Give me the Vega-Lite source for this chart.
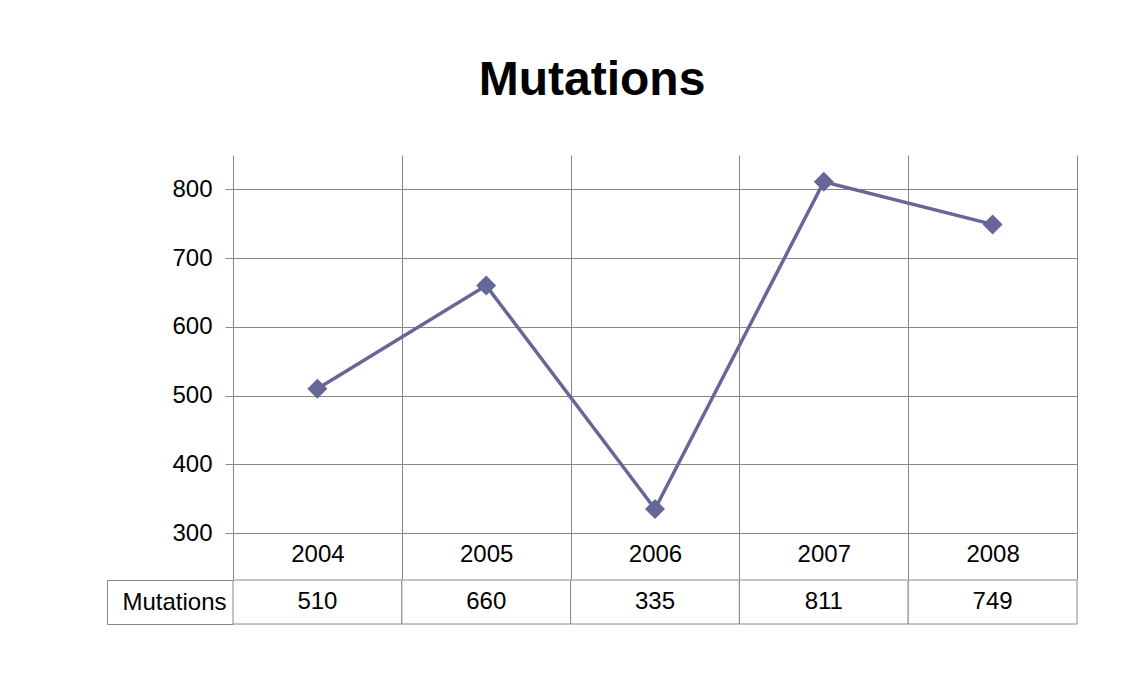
{
  "$schema": "https://vega.github.io/schema/vega-lite/v6.json",
  "padding": {"left": 106, "top": 57, "right": 10, "bottom": 10},
  "autosize": {"type": "pad"},
  "background": "white",
  "title": {"text": "Mutations", "fontSize": 48, "font": "Liberation Sans", "fontWeight": "bold", "color": "black", "anchor": "middle", "offset": 50},
  "config": {
    "view": {"stroke": null},
    "font": "Liberation Sans",
    "axis": {"labelFont": "Liberation Sans", "labelColor": "black", "labelFontSize": 24}
  },
  "data": {
    "values": [
      {"year": "2004", "value": 510, "series": "Mutations"},
      {"year": "2005", "value": 660, "series": "Mutations"},
      {"year": "2006", "value": 335, "series": "Mutations"},
      {"year": "2007", "value": 811, "series": "Mutations"},
      {"year": "2008", "value": 749, "series": "Mutations"}
    ]
  },
  "spacing": -13,
  "vconcat": [
    {
      "width": 844,
      "height": 378,
      "layer": [
        {
          "mark": {"type": "line", "color": "#666699", "strokeWidth": 3.5},
          "encoding": {
            "x": {"field": "year", "type": "ordinal", "scale": {"type": "band", "paddingInner": 0, "paddingOuter": 0},
              "axis": {"orient": "bottom", "title": null, "domain": false, "ticks": true, "tickBand": "extent", "tickSize": 46, "tickColor": "#888888", "tickWidth": 1, "grid": true, "gridColor": "#888888", "gridOpacity": 1, "gridWidth": 1, "labelAngle": 0, "labelBaseline": "middle", "labelPadding": -25, "labelFontSize": 24}},
            "y": {"field": "value", "type": "quantitative", "scale": {"domain": [300, 850], "nice": false, "zero": false},
              "axis": {"title": null, "domain": false, "tickSize": 8, "tickColor": "#888888", "tickWidth": 1, "grid": true, "gridColor": "#888888", "gridOpacity": 1, "gridWidth": 1, "values": [300, 400, 500, 600, 700, 800], "labelPadding": 13, "labelFontSize": 24}}
          }
        },
        {
          "mark": {"type": "point", "shape": "diamond", "filled": true, "size": 400, "color": "#666699", "opacity": 1},
          "encoding": {
            "x": {"field": "year", "type": "ordinal"},
            "y": {"field": "value", "type": "quantitative"}
          }
        }
      ]
    },
    {
      "width": 844,
      "height": 44,
      "layer": [
        {
          "mark": {"type": "rect", "fill": "white", "stroke": "#888888", "strokeWidth": 1},
          "encoding": {
            "x": {"field": "year", "type": "ordinal", "scale": {"type": "band", "paddingInner": 0, "paddingOuter": 0}, "axis": null},
            "y": {"field": "series", "type": "nominal", "scale": {"type": "band", "paddingInner": 0, "paddingOuter": 0},
              "axis": {"orient": "left", "title": null, "domain": false, "ticks": true, "tickBand": "extent", "tickSize": 126, "tickColor": "#888888", "tickWidth": 1, "labelPadding": -119, "labelAlign": "right", "labelFontSize": 24}}
          }
        },
        {
          "mark": {"type": "text", "fontSize": 24, "color": "black", "font": "Liberation Sans"},
          "encoding": {
            "x": {"field": "year", "type": "ordinal", "axis": null},
            "y": {"field": "series", "type": "nominal",
              "axis": {"orient": "left", "offset": 126, "title": null, "domain": true, "domainColor": "#888888", "domainWidth": 1, "labels": false, "ticks": false, "grid": false}},
            "text": {"field": "value", "type": "quantitative"}
          }
        }
      ],
      "resolve": {"axis": {"y": "independent"}}
    }
  ]
}
